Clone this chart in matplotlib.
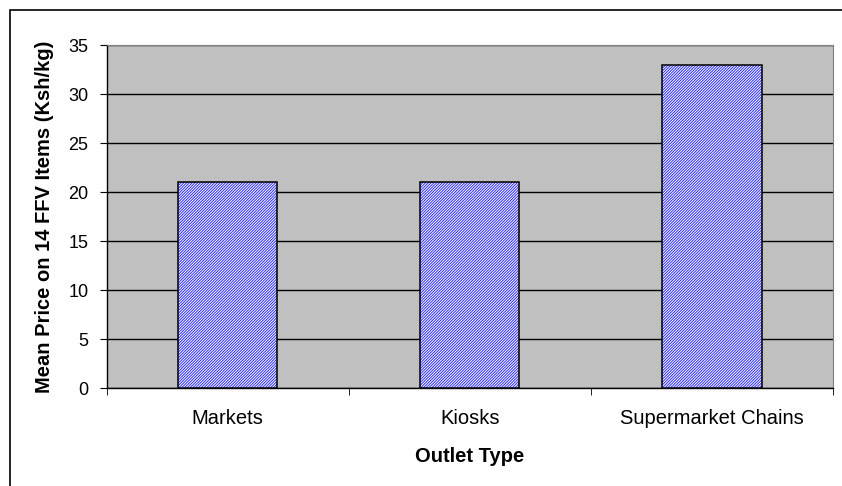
import matplotlib
matplotlib.use("Agg")
import matplotlib.pyplot as plt
from matplotlib.patches import Rectangle

categories = ["Markets", "Kiosks", "Supermarket Chains"]
values = [21, 21, 33]
yticks = [0, 5, 10, 15, 20, 25, 30, 35]

plt.rcParams['font.family'] = ['Liberation Sans', 'DejaVu Sans']
plt.rcParams['hatch.linewidth'] = 0.7

fig = plt.figure(figsize=(8.42, 4.86), dpi=100)
ax = fig.add_axes([106.5/842, 1-388/486, (833-106.5)/842, (388-45)/486])
ax.set_facecolor('#c0c0c0')

x = list(range(len(categories)))
ax.bar(x, values, width=0.41, color='white', edgecolor='#2828ff', linewidth=0,
       hatch='////////////', zorder=3)
ax.bar(x, values, width=0.41, fill=False, edgecolor='black', linewidth=1.1, zorder=4)

ax.set_xlim(-0.5, len(categories)-0.5)
ax.set_ylim(0, 35)
ax.set_yticks(yticks)
ax.set_yticklabels([str(t) for t in yticks], fontsize=13)
ax.yaxis.grid(True, color='black', linewidth=1.0, zorder=0)
ax.set_axisbelow(True)

ax.set_xticks(x)
ax.set_xticklabels(categories, fontsize=14.5)
ax.tick_params(axis='x', length=0, pad=15)
ax.set_xticks([i-0.5 for i in range(len(categories)+1)], minor=True)
ax.tick_params(axis='x', which='minor', length=5, direction='out', color='black')
ax.tick_params(axis='y', length=5, direction='out', color='black', pad=8)

for s in ['top', 'right']:
    ax.spines[s].set_color('#808080')
for s in ['left', 'bottom']:
    ax.spines[s].set_color('black')
    ax.spines[s].set_linewidth(1.0)

ax.set_xlabel("Outlet Type", fontsize=14.5, fontweight='bold', labelpad=14)
ax.set_ylabel("Mean Price on 14 FFV Items (Ksh/kg)", fontsize=14.5, fontweight='bold', labelpad=10)

fig.patches.append(Rectangle((10/842, -0.1), 2, 1-10/486+0.1, transform=fig.transFigure,
                             fill=False, edgecolor='black', linewidth=1.2))

fig.savefig("out.png", dpi=100)
